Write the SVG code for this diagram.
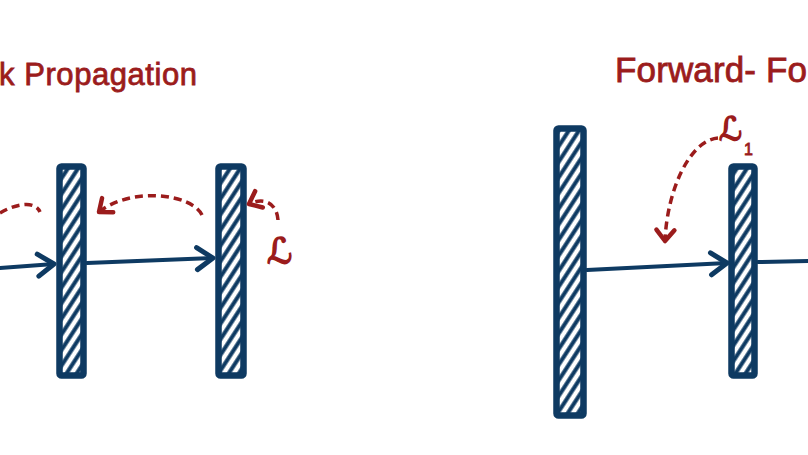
<svg xmlns="http://www.w3.org/2000/svg" width="808" height="455" viewBox="0 0 808 455">
<style>
.title{font-family:"Liberation Sans","DejaVu Sans",sans-serif;fill:#9b1c1c;stroke:#9b1c1c;stroke-width:0.8}
.sym{font-family:"DejaVu Serif","DejaVu Sans",serif;fill:#9b1c1c;stroke:#9b1c1c;stroke-width:1.6}
.sub{font-family:"Liberation Sans","DejaVu Sans",sans-serif;fill:#9b1c1c;stroke:#9b1c1c;stroke-width:0.8}
.bar{fill:url(#hatch);stroke:#0e3a62;stroke-width:6.5;stroke-linejoin:round}
.flow{fill:none;stroke:#0e3a62;stroke-width:4;stroke-linecap:round;marker-end:url(#navyHead)}
.grad{fill:none;stroke:#9b1c1c;stroke-width:3.5;stroke-dasharray:8 5;stroke-linecap:butt}
.gradArrow{marker-end:url(#redHead)}
</style>
<defs>
<pattern id="hatch" patternUnits="userSpaceOnUse" width="8.5" height="8.5" patternTransform="rotate(-57)">
<rect width="8.5" height="8.5" fill="#ffffff"/>
<rect y="2.2" width="8.5" height="4" fill="#0e3a62"/>
</pattern>
<marker id="navyHead" markerUnits="userSpaceOnUse" viewBox="-20 -14 24 28" markerWidth="24" markerHeight="28" refX="0" refY="0" orient="auto">
<path d="M-16,-11 L0,0 L-16,11" fill="none" stroke="#0e3a62" stroke-width="5" stroke-linecap="round" stroke-linejoin="round"/>
</marker>
<marker id="redHead" markerUnits="userSpaceOnUse" viewBox="-16 -12 20 24" markerWidth="20" markerHeight="24" refX="0" refY="0" orient="auto">
<path d="M-11,-9 L0,0 L-11,9" fill="none" stroke="#9b1c1c" stroke-width="4.5" stroke-linecap="round" stroke-linejoin="round"/>
</marker>
</defs>
<rect width="808" height="455" fill="#ffffff"/>

<g id="title-back">
<text class="title" x="-1" y="85" font-size="31" textLength="198" lengthAdjust="spacing">k Propagation</text>
</g>
<g id="title-forward">
<text class="title" x="615" y="82" font-size="35" textLength="192" lengthAdjust="spacing">Forward- Fo</text>
</g>

<g id="layer1"><rect class="bar" x="59.5" y="166.5" width="24" height="209" rx="2"/></g>
<g id="layer2"><rect class="bar" x="218.5" y="166.5" width="25" height="209" rx="2"/></g>
<g id="layer3"><rect class="bar" x="556.5" y="128.5" width="27" height="287" rx="2"/></g>
<g id="layer4"><rect class="bar" x="731.5" y="166.5" width="23" height="209" rx="2"/></g>

<g id="loss-L"><text class="sym" x="267" y="263" font-size="35">ℒ</text></g>
<g id="loss-L1"><text class="sym" x="719" y="140" font-size="32">ℒ</text><text class="sub" x="744" y="155" font-size="16">1</text></g>

<g id="connectors">
<path class="flow" d="M0,268 L54,264"/>
<path class="flow" d="M87,263 L213,258"/>
<path class="flow" d="M587,270 L727,263"/>
<path class="flow" d="M758,262 L808,261" style="marker-end:none"/>
<path class="grad" d="M0,213 C15,204 35,200 40,212"/>
<path class="grad gradArrow" d="M202,215 C192,194 132,186 99,212"/>
<path class="grad gradArrow" d="M278,220 C277,205 266,196 249,204"/>
<path class="grad gradArrow" d="M718,138 C690,140 667,190 665,241"/>
</g>
</svg>
